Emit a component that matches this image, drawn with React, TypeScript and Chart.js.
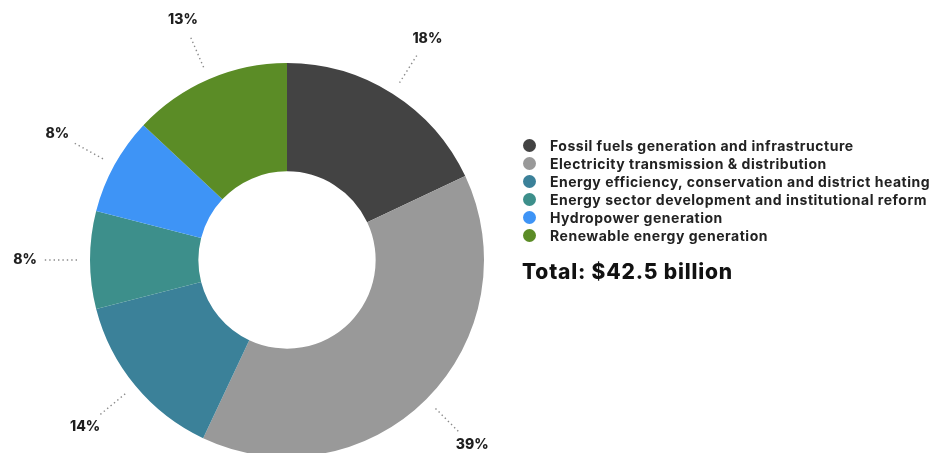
import React, { useEffect, useRef } from "react";
import { Chart, registerables } from "chart.js";

Chart.register(...registerables);

const categories = [
  "Fossil fuels generation and infrastructure",
  "Electricity transmission & distribution",
  "Energy efficiency, conservation and district heating",
  "Energy sector development and institutional reform",
  "Hydropower generation",
  "Renewable energy generation",
];
const shares = [18, 39, 14, 8, 8, 13];
const colors = ["#434343", "#999999", "#3b8199", "#3d8f8b", "#3e94f6", "#5b8c26"];
const totalLabel = "Total: $42.5 billion";

const FONT = "Inter, 'Noto Sans', sans-serif";

const leaderPlugin = {
  id: "leaders",
  afterDatasetsDraw(chart: any) {
    const ctx = chart.ctx;
    const meta = chart.getDatasetMeta(0);
    meta.data.forEach((arc: any, i: number) => {
      const { x, y, startAngle, endAngle, outerRadius } = arc.getProps(
        ["x", "y", "startAngle", "endAngle", "outerRadius"],
        true
      );
      const mid = (startAngle + endAngle) / 2;
      const cos = Math.cos(mid);
      const sin = Math.sin(mid);
      const r1 = outerRadius + 13;
      const r2 = outerRadius + 46;
      const rt = outerRadius + 65;
      ctx.save();
      ctx.strokeStyle = "#8a8a8a";
      ctx.lineWidth = 1.4;
      ctx.setLineDash([1.4, 3]);
      ctx.beginPath();
      ctx.moveTo(x + cos * r1, y + sin * r1);
      ctx.lineTo(x + cos * r2, y + sin * r2);
      ctx.stroke();
      ctx.setLineDash([]);
      ctx.fillStyle = "#1e1e1e";
      ctx.font = `800 14px ${FONT}`;
      ctx.textAlign = "center";
      ctx.textBaseline = "middle";
      ctx.fillText(shares[i] + "%", x + cos * rt, y + sin * rt);
      ctx.restore();
    });
  },
};

export default function App() {
  const ref = useRef<HTMLCanvasElement>(null);
  useEffect(() => {
    if (!ref.current) return;
    const chart = new Chart(ref.current, {
      type: "doughnut",
      data: {
        labels: categories,
        datasets: [
          {
            data: shares,
            backgroundColor: colors,
            borderWidth: 0,
          },
        ],
      },
      options: {
        responsive: false,
        animation: false,
        cutout: "45%",
        layout: { padding: { left: 90, top: 63, right: 462, bottom: 13 } },
        plugins: {
          legend: { display: false },
          tooltip: { enabled: false },
        },
      },
      plugins: [leaderPlugin],
    });
    return () => chart.destroy();
  }, []);

  return (
    <div
      style={{
        position: "fixed",
        left: 0,
        top: 0,
        width: 946,
        height: 453,
        overflow: "hidden",
        background: "#ffffff",
        fontFamily: FONT,
      }}
    >
      <canvas
        ref={ref}
        width={946}
        height={470}
        style={{ position: "absolute", left: 0, top: 0, width: 946, height: 470 }}
      />
      <div style={{ position: "absolute", left: 523, top: 136 }}>
        {categories.map((c, i) => (
          <div
            key={c}
            style={{
              display: "flex",
              alignItems: "center",
              height: 18,
              fontSize: 14,
              fontWeight: 700,
              letterSpacing: 0.52,
              color: "#222",
              whiteSpace: "nowrap",
            }}
          >
            <span
              style={{
                display: "inline-block",
                width: 13,
                height: 13,
                borderRadius: "50%",
                background: colors[i],
                marginRight: 14,
                flexShrink: 0,
              }}
            />
            {c}
          </div>
        ))}
      </div>
      <div
        style={{
          position: "absolute",
          left: 522,
          top: 258,
          fontSize: 21,
          fontWeight: 800,
          letterSpacing: 0.8,
          color: "#111",
          whiteSpace: "nowrap",
          lineHeight: "28px",
        }}
      >
        {totalLabel}
      </div>
    </div>
  );
}
